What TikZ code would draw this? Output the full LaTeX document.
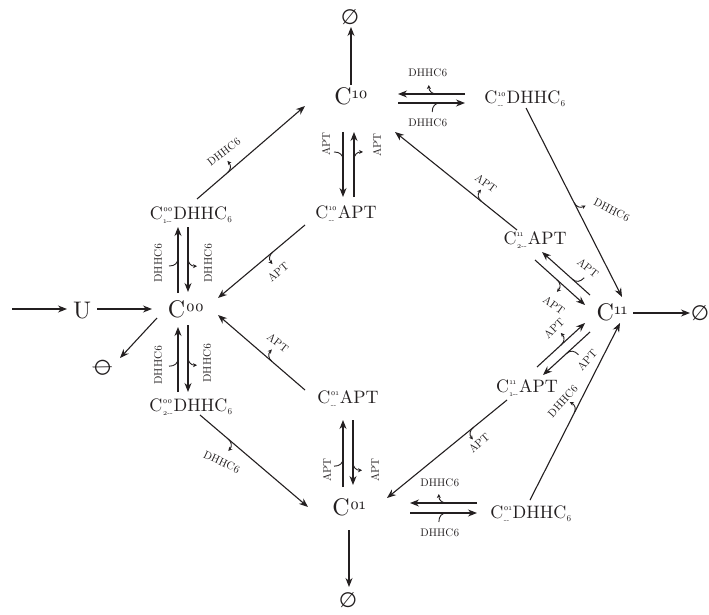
\documentclass[tikz,border=0pt]{standalone}
\usepackage{fontspec}
\setmainfont{lmroman10-regular.otf}[Numbers=OldStyle]
\newfontfamily\symfnt{DejaVu Sans}
\usetikzlibrary{arrows.meta,calc,decorations.markings}
\definecolor{ink}{RGB}{35,31,32}

% superscript stacked over a subscript, placed right after a letter
\newcommand\supsub[2]{\begingroup\kern0.5pt\fontsize{8}{8}\selectfont
  \setbox0\hbox{#1}\setbox2\hbox{#2}%
  \ifdim\wd0>\wd2 \dimen0=\wd0 \else \dimen0=\wd2 \fi
  \rlap{\raise7.5pt\box0}\rlap{\lower4pt\box2}\kern\dimen0\kern1pt\endgroup}
\newcommand\lowsix{\raisebox{-3pt}{\fontsize{9}{9}\selectfont 6}}
\newcommand\bigsup[1]{\kern0.5pt\raisebox{6pt}{\fontsize{16}{16}\selectfont #1}}

\tikzset{
  big/.style={font=\fontsize{24}{24}\selectfont, text=ink, inner sep=0pt, anchor=base},
  mid/.style={font=\fontsize{18}{18}\selectfont, text=ink, inner sep=0pt, anchor=base},
  enz/.style={font=\fontsize{11}{11}\selectfont, text=ink, inner sep=0pt},
  nul/.style={font=\symfnt\fontsize{21}{21}\selectfont, text=ink, inner sep=0pt},
  rx/.style={draw=ink, line width=1.1pt, -{Stealth[length=9pt,width=7pt]}},
  hk/.style={draw=ink, line width=0.9pt},
  % enzyme released: hook leaves the reaction arrow with a small tip
  hookout/.style 2 args={postaction={decorate,decoration={markings,
    mark=at position #1 with {\draw[hk,-{Stealth[length=4pt,width=4pt]}]
      (0pt,0pt) .. controls (5pt,0pt) and (8pt,#2*3pt) .. (8pt,#2*9pt);}}}},
  % enzyme bound: hook joins the reaction arrow
  hookin/.style 2 args={postaction={decorate,decoration={markings,
    mark=at position #1 with {\draw[hk,-]
      (-8pt,#2*9pt) .. controls (-8pt,#2*3pt) and (-5pt,0pt) .. (0pt,0pt);}}}},
}

\begin{document}
\begin{tikzpicture}[x=1pt,y=-1pt]
\useasboundingbox (0,0) rectangle (709,615);

% species
\coordinate (Uin) at (12,309);
\node[big] (U)   at (82,318)  {U};
\node[big] (C00) at (186,317) {C\bigsup{00}};
\node[big] (C10) at (351,105) {C\bigsup{10}};
\node[big] (C01) at (349,515) {C\bigsup{01}};
\node[big] (C11) at (612,320) {C\bigsup{11}};

\node[mid] (P1)  at (191,219) {C\supsub{00}{1-{}-}DHHC\lowsix};
\node[mid] (P2)  at (191,411) {C\supsub{00}{2-{}-}DHHC\lowsix};
\node[mid] (A10) at (346,218) {C\supsub{10}{-{}-}APT};
\node[mid] (A01) at (348,403) {C\supsub{01}{-{}-}APT};
\node[mid] (D10) at (525,104) {C\supsub{10}{-{}-}DHHC\lowsix};
\node[mid] (D01) at (531,518) {C\supsub{01}{-{}-}DHHC\lowsix};
\node[mid] (A2)  at (535,244) {C\supsub{11}{2-{}-}APT};
\node[mid] (A1)  at (527,392) {C\supsub{11}{1-{}-}APT};

% degradation sinks
\node[nul] (Z1) at (350,17)  {∅};
\node[nul] (Z2) at (700,313) {∅};
\node[nul] (Z3) at (348,600) {∅};
\node[nul, rotate=-50] (Z4) at (103,368) {∅};

% inflow and degradation
\draw[rx] (Uin) -- ($(U.base)+(-15,-9)$);
\draw[rx] ($(U.base)+(15,-9)$) -- ($(C00.base)+(-34,-8)$);
\draw[rx] ($(C00.base)+(-29,1)$) -- ($(Z4)+(17,-10)$);
\draw[rx] ($(C10.base)+(0,-20)$) -- ($(Z1)+(1,10)$);
\draw[rx] ($(C01.base)+(0,15)$) -- ($(Z3)+(1,-13)$);
\draw[rx] ($(C11.base)+(21,-7)$) -- ($(Z2)+(-10,0)$);

% C00 <-> DHHC6 complexes
\draw[rx, hookin={0.53}{1}]  ($(C00.base)+(-8,-24)$) -- ($(P1.base)+(-13,8)$);
\draw[rx, hookout={0.48}{1}] ($(P1.base)+(-3,8)$) -- ($(C00.base)+(2,-25)$);
\draw[rx, hookin={0.52}{1}]  ($(P2.base)+(-13,-19)$) -- ($(C00.base)+(-8,10)$);
\draw[rx, hookout={0.48}{1}] ($(C00.base)+(2,8)$) -- ($(P2.base)+(-3,-19)$);
\node[enz, rotate=90] (l1) at (158,263) {DHHC6};
\node[enz, rotate=90] (l2) at (208,263) {DHHC6};
\node[enz, rotate=90] (l3) at (158,365) {DHHC6};
\node[enz, rotate=90] (l4) at (207,363) {DHHC6};

% palmitoylation / depalmitoylation steps
\draw[rx, hookout={0.28}{1}]  ($(P1.base)+(6,-20)$) -- ($(C10.base)+(-46,1)$);
\node[enz, rotate=38] (l5) at (224,152) {DHHC6};
\draw[rx, hookout={0.37}{1}]  ($(A10.base)+(-41,7)$) -- ($(C00.base)+(32,-19)$);
\node[enz, rotate=41] (l6) at (278,272) {APT};
\draw[rx, hookout={0.38}{-1}] ($(A01.base)+(-43,-13)$) -- ($(C00.base)+(32,-2)$);
\node[enz, rotate=-38] (l7) at (278,343) {APT};
\draw[rx, hookout={0.26}{-1}] ($(P2.base)+(9,4)$) -- ($(C01.base)+(-41,-8)$);
\node[enz, rotate=-25] (l8) at (222,462) {DHHC6};

% C10 <-> C10-DHHC6
\draw[rx, hookout={0.42}{-1}] ($(D10.base)+(-60,-10)$) -- ($(C10.base)+(47,-11)$);
\draw[rx, hookin={0.63}{-1}]  ($(C10.base)+(47,-2)$) -- ($(D10.base)+(-60,-1)$);
\node[enz] (l9)  at (428,73)  {DHHC6};
\node[enz] (l10) at (428,123) {DHHC6};

% C10 <-> C10-APT
\draw[rx, hookin={0.43}{-1}]  ($(C10.base)+(-8,27)$) -- ($(A10.base)+(-3,-21)$);
\draw[rx, hookout={0.57}{-1}] ($(A10.base)+(8,-21)$) -- ($(C10.base)+(3,27)$);
\node[enz, rotate=90] (l11) at (326,144) {APT};
\node[enz, rotate=90] (l12) at (377,145) {APT};

% C01 <-> C01-APT
\draw[rx, hookin={0.43}{1}]  ($(C01.base)+(-6,-28)$) -- ($(A01.base)+(-5,17)$);
\draw[rx, hookout={0.65}{1}] ($(A01.base)+(5,17)$) -- ($(C01.base)+(4,-30)$);
\node[enz, rotate=90] (l13) at (327,470) {APT};
\node[enz, rotate=90] (l14) at (375,470) {APT};

% C01 <-> C01-DHHC6
\draw[rx, hookout={0.45}{-1}] ($(D01.base)+(-54,-15)$) -- ($(C01.base)+(61,-12)$);
\draw[rx, hookin={0.55}{-1}]  ($(C01.base)+(61,-2)$) -- ($(D01.base)+(-54,-5)$);
\node[enz] (l15) at (440,483) {DHHC6};
\node[enz] (l16) at (440,533) {DHHC6};

% routes into and out of C11
\draw[rx, hookout={0.5}{1}]   ($(D10.base)+(1,4)$) -- ($(C11.base)+(10,-23)$);
\node[enz, rotate=-27] (l17) at (612,210) {DHHC6};
\draw[rx, hookout={0.29}{-1}] ($(A2.base)+(-18,-14)$) -- ($(C10.base)+(44,27)$);
\node[enz, rotate=-36] (l18) at (486,183) {APT};
\draw[rx, hookin={0.37}{-1}]  ($(C11.base)+(-22,-25)$) -- ($(A2.base)+(7,8)$);
\node[enz, rotate=-39] (l19) at (588,268) {APT};
\draw[rx, hookout={0.44}{-1}] ($(A2.base)+(0,16)$) -- ($(C11.base)+(-27,-15)$);
\node[enz, rotate=-36] (l20) at (554,305) {APT};
\draw[rx, hookout={0.5}{1}]   ($(A1.base)+(10,-25)$) -- ($(C11.base)+(-27,3)$);
\node[enz, rotate=45] (l21) at (554,328) {APT};
\draw[rx, hookin={0.5}{1}]    ($(C11.base)+(-22,12)$) -- ($(A1.base)+(16,-17)$);
\node[enz, rotate=48] (l22) at (587,360) {APT};
\draw[rx, hookout={0.28}{1}]  ($(A1.base)+(-20,8)$) -- ($(C01.base)+(38,-17)$);
\node[enz, rotate=42] (l23) at (479,443) {APT};
\draw[rx, hookout={0.49}{1}]  ($(D01.base)+(-1,-18)$) -- ($(C11.base)+(8,3)$);
\node[enz, rotate=48] (l24) at (563,401) {DHHC6};
\end{tikzpicture}
\end{document}
